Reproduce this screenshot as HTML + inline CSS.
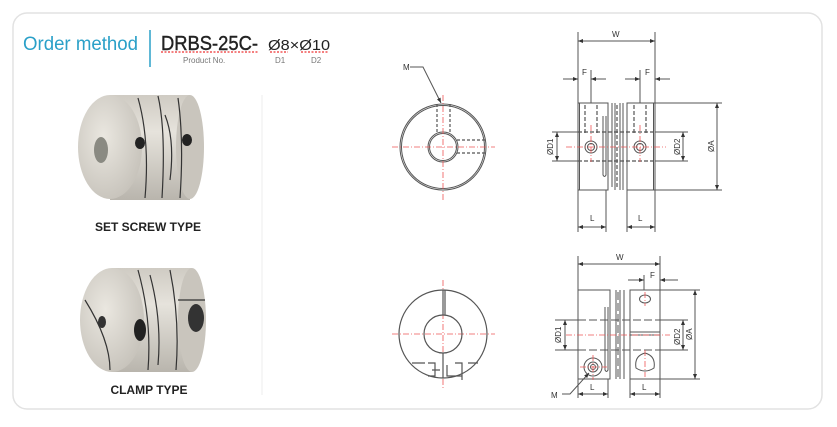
<!DOCTYPE html>
<html><head><meta charset="utf-8"><style>
html,body{margin:0;padding:0;background:#fff;}
svg{display:block;font-family:"Liberation Sans",sans-serif;}
</style></head><body>
<svg width="837" height="427" viewBox="0 0 837 427" xmlns="http://www.w3.org/2000/svg">
<defs>
<linearGradient id="g1" x1="0" y1="0" x2="0" y2="1">
<stop offset="0" stop-color="#cfcbc3"/><stop offset="0.35" stop-color="#e6e3dc"/><stop offset="1" stop-color="#b9b5ad"/>
</linearGradient>
<radialGradient id="g2" cx="0.4" cy="0.4" r="0.7"><stop offset="0" stop-color="#eae7e0"/><stop offset="1" stop-color="#c4c0b8"/></radialGradient>
<marker id="a" viewBox="0 0 10 10" refX="10" refY="5" markerWidth="7" markerHeight="5" orient="auto-start-reverse"><path d="M0,1 L10,5 L0,9 z" fill="#333"/></marker>
</defs>
<rect x="13" y="13" width="809" height="396" rx="14" fill="#fff" stroke="#e2e2e2" stroke-width="1.5"/>
<line x1="262" y1="95" x2="262" y2="395" stroke="#eee" stroke-width="1"/>
<!-- header -->
<text x="23" y="50" font-size="19" fill="#2aa0c8" textLength="115" lengthAdjust="spacingAndGlyphs">Order method</text>
<line x1="150" y1="30" x2="150" y2="67" stroke="#2aa0c8" stroke-width="1.5"/>
<text x="161" y="50" font-size="20" fill="#222" stroke="#222" stroke-width="0.4" textLength="97" lengthAdjust="spacingAndGlyphs">DRBS-25C-</text>
<text x="268" y="50" font-size="15" fill="#222" textLength="62" lengthAdjust="spacingAndGlyphs">Ø8×Ø10</text>
<g stroke="#e33" stroke-width="1.2" stroke-dasharray="2,1.5">
<line x1="161" y1="52" x2="258" y2="52"/><line x1="270" y1="52" x2="288" y2="52"/><line x1="301" y1="52" x2="329" y2="52"/>
</g>
<text x="183" y="63" font-size="8" fill="#777">Product No.</text>
<text x="275" y="63" font-size="8" fill="#777">D1</text>
<text x="311" y="63" font-size="8" fill="#777">D2</text>
<!-- set screw coupling -->
<rect x="110" y="95" width="80" height="105" fill="url(#g1)"/>
<ellipse cx="190" cy="147" rx="14" ry="52" fill="#c9c5bd"/>
<ellipse cx="110" cy="147" rx="32" ry="52" fill="url(#g2)"/>
<ellipse cx="101" cy="150" rx="7" ry="13" fill="#8a8a82"/>
<ellipse cx="140" cy="143" rx="5" ry="6" fill="#222"/>
<ellipse cx="187" cy="140" rx="5" ry="6" fill="#222"/>
<path d="M138,98 Q150,140 145,198 M158,96 Q166,130 162,198 M165,115 Q175,140 170,180 M178,98 Q184,140 180,198" stroke="#333" stroke-width="1.2" fill="none"/>
<text x="148" y="231" font-size="12" font-weight="bold" fill="#222" text-anchor="middle">SET SCREW TYPE</text>
<!-- clamp coupling -->
<rect x="112" y="268" width="80" height="104" fill="url(#g1)"/>
<ellipse cx="192" cy="320" rx="14" ry="52" fill="#c9c5bd"/>
<ellipse cx="112" cy="320" rx="32" ry="52" fill="url(#g2)"/>
<ellipse cx="102" cy="322" rx="4" ry="6" fill="#333"/>
<ellipse cx="140" cy="330" rx="6" ry="11" fill="#222"/>
<ellipse cx="196" cy="318" rx="8" ry="14" fill="#333"/>
<path d="M85,300 Q110,340 110,370 M138,270 Q152,320 148,370 M150,275 Q162,320 158,365 M170,270 Q180,320 176,370 M178,300 L205,300" stroke="#333" stroke-width="1.2" fill="none"/>
<text x="149" y="394" font-size="12" font-weight="bold" fill="#222" text-anchor="middle">CLAMP TYPE</text>
<!-- circle 1 -->
<g fill="none" stroke="#555" stroke-width="1">
<circle cx="443" cy="147" r="43"/><circle cx="443" cy="147" r="41.5"/>
<circle cx="443" cy="147" r="15"/><circle cx="443" cy="147" r="13.5"/>
<g stroke-dasharray="3,2" stroke-width="1.2">
<line x1="437" y1="104" x2="437" y2="133"/><line x1="450" y1="104" x2="450" y2="133"/>
<line x1="457" y1="140" x2="486" y2="140"/><line x1="457" y1="153" x2="486" y2="153"/>
</g>
<path d="M410,67 L423,67 L441,103" marker-end="url(#a)"/>
</g>
<text x="403" y="70" font-size="8" fill="#333">M</text>
<g stroke="#e55" stroke-width="0.8" stroke-dasharray="6,2,1,2">
<line x1="392" y1="147" x2="495" y2="147"/><line x1="443" y1="95" x2="443" y2="200"/>
<line x1="392" y1="334" x2="495" y2="334"/><line x1="443" y1="280" x2="443" y2="388"/>
</g>
<!-- circle 2 -->
<g fill="none" stroke="#555" stroke-width="1.2">
<circle cx="443" cy="334" r="44"/>
<circle cx="443" cy="334" r="19"/>
<line x1="443" y1="290" x2="443" y2="315"/><line x1="445" y1="290" x2="445" y2="315"/>
<line x1="443" y1="353" x2="443" y2="378"/>
<path d="M412,363 L425,363 M428,363 L435,363 L435,376 L428,376 M432,370 L440,370 M447,365 L447,376 L462,376 M455,363 L462,363 L462,380 M468,363 L478,363"/>
</g>
<!-- drawing top right -->
<g fill="none" stroke="#555" stroke-width="1">
<rect x="578" y="103" width="30" height="87"/>
<rect x="627" y="103" width="28" height="87"/>
<line x1="579.5" y1="103" x2="579.5" y2="190"/><line x1="653.5" y1="103" x2="653.5" y2="190"/>
<path d="M608,103 L608,190 M612,103 L612,187 M615,103 L615,190 M620,103 L620,190 M623,103 L623,190 M627,103 L627,190"/>
<path d="M603,116 L603,175 Q604.5,178 606,175 L606,116"/>
<g stroke-dasharray="4,2" stroke-width="1.2">
<line x1="585" y1="105" x2="585" y2="133"/><line x1="597" y1="105" x2="597" y2="133"/>
<line x1="634" y1="105" x2="634" y2="133"/><line x1="646" y1="105" x2="646" y2="133"/>
<line x1="578" y1="132" x2="655" y2="132"/><line x1="578" y1="161" x2="655" y2="161"/>
<line x1="617" y1="105" x2="617" y2="188"/>
</g>
<circle cx="591" cy="147" r="6"/><circle cx="591" cy="147" r="3.5"/>
<circle cx="640" cy="147" r="6"/><circle cx="640" cy="147" r="3.5"/>
<path d="M578,32 L578,103 M655,32 L655,103 M655,103 L722,103 M655,190 L722,190 M578,190 L578,232 M606,190 L606,232 M627,190 L627,232 M655,190 L655,232 M591,70 L591,103 M640,70 L640,103 M552,132 L578,132 M552,161 L578,161 M655,132 L688,132 M655,161 L688,161"/>
<line x1="578" y1="41" x2="655" y2="41" marker-start="url(#a)" marker-end="url(#a)"/>
<line x1="563" y1="79" x2="578" y2="79" marker-end="url(#a)"/><line x1="606" y1="79" x2="591" y2="79" marker-end="url(#a)"/>
<line x1="625" y1="79" x2="640" y2="79" marker-end="url(#a)"/><line x1="670" y1="79" x2="655" y2="79" marker-end="url(#a)"/>
<line x1="557" y1="132" x2="557" y2="161" marker-start="url(#a)" marker-end="url(#a)"/>
<line x1="683" y1="132" x2="683" y2="161" marker-start="url(#a)" marker-end="url(#a)"/>
<line x1="717" y1="103" x2="717" y2="190" marker-start="url(#a)" marker-end="url(#a)"/>
<line x1="578" y1="227" x2="606" y2="227" marker-start="url(#a)" marker-end="url(#a)"/>
<line x1="627" y1="227" x2="655" y2="227" marker-start="url(#a)" marker-end="url(#a)"/>
</g>
<g stroke="#e55" stroke-width="0.8" stroke-dasharray="6,2,1,2">
<line x1="566" y1="147" x2="666" y2="147"/><line x1="591" y1="125" x2="591" y2="162"/><line x1="640" y1="125" x2="640" y2="162"/>
</g>
<g font-size="8" fill="#333">
<text x="612" y="37">W</text><text x="582" y="75">F</text><text x="645" y="75">F</text>
<text x="590" y="221">L</text><text x="638" y="221">L</text>
<text transform="translate(553,155) rotate(-90)">ØD1</text>
<text transform="translate(680,155) rotate(-90)">ØD2</text>
<text transform="translate(714,152) rotate(-90)">ØA</text>
</g>
<!-- drawing bottom right -->
<g fill="none" stroke="#555" stroke-width="1">
<rect x="578" y="290" width="32" height="89"/>
<rect x="630" y="290" width="30" height="89"/>
<path d="M610,290 L610,379 M616,290 L616,379 M620,290 L620,379 M624,290 L624,379 M630,290 L630,379"/>
<path d="M605,307 L605,370 Q606.5,373 608,370 L608,307"/>
<line x1="630" y1="332" x2="660" y2="332"/><line x1="630" y1="335" x2="660" y2="335"/>
<g stroke-dasharray="8,3">
<line x1="578" y1="320" x2="660" y2="320"/><line x1="578" y1="350" x2="660" y2="350"/>
<line x1="618" y1="292" x2="618" y2="377"/>
</g>
<ellipse cx="645" cy="299" rx="5.5" ry="4"/>
<path d="M636,368 Q634,356 645,353 Q656,356 654,368 Q645,374 636,368 Z"/>
<circle cx="593" cy="367" r="9"/><circle cx="593" cy="367" r="5"/><circle cx="593" cy="367" r="2.5"/>
<path d="M578,256 L578,290 M660,256 L660,290 M660,290 L700,290 M660,379 L700,379 M578,379 L578,398 M608,379 L608,398 M630,379 L630,398 M660,379 L660,398 M644,275 L644,290 M555,320 L578,320 M555,350 L578,350 M660,320 L688,320 M660,350 L688,350"/>
<line x1="578" y1="264" x2="660" y2="264" marker-start="url(#a)" marker-end="url(#a)"/>
<line x1="628" y1="280" x2="644" y2="280" marker-end="url(#a)"/><line x1="678" y1="280" x2="660" y2="280" marker-end="url(#a)"/>
<line x1="565" y1="320" x2="565" y2="350" marker-start="url(#a)" marker-end="url(#a)"/>
<line x1="683" y1="320" x2="683" y2="350" marker-start="url(#a)" marker-end="url(#a)"/>
<line x1="695" y1="290" x2="695" y2="379" marker-start="url(#a)" marker-end="url(#a)"/>
<line x1="578" y1="394" x2="608" y2="394" marker-start="url(#a)" marker-end="url(#a)"/>
<line x1="630" y1="394" x2="660" y2="394" marker-start="url(#a)" marker-end="url(#a)"/>
<path d="M562,394 L570,394 L589,373" marker-end="url(#a)"/>
</g>
<g stroke="#e55" stroke-width="0.8" stroke-dasharray="6,2,1,2">
<line x1="566" y1="335" x2="670" y2="335"/><line x1="645" y1="292" x2="645" y2="306"/><line x1="645" y1="350" x2="645" y2="377"/>
<line x1="580" y1="367" x2="607" y2="367"/><line x1="593" y1="355" x2="593" y2="380"/>
</g>
<g font-size="8" fill="#333">
<text x="616" y="260">W</text><text x="650" y="278">F</text>
<text x="590" y="390">L</text><text x="642" y="390">L</text>
<text x="551" y="398">M</text>
<text transform="translate(561,343) rotate(-90)">ØD1</text>
<text transform="translate(680,345) rotate(-90)">ØD2</text>
<text transform="translate(692,340) rotate(-90)">ØA</text>
</g>
</svg>
</body></html>
